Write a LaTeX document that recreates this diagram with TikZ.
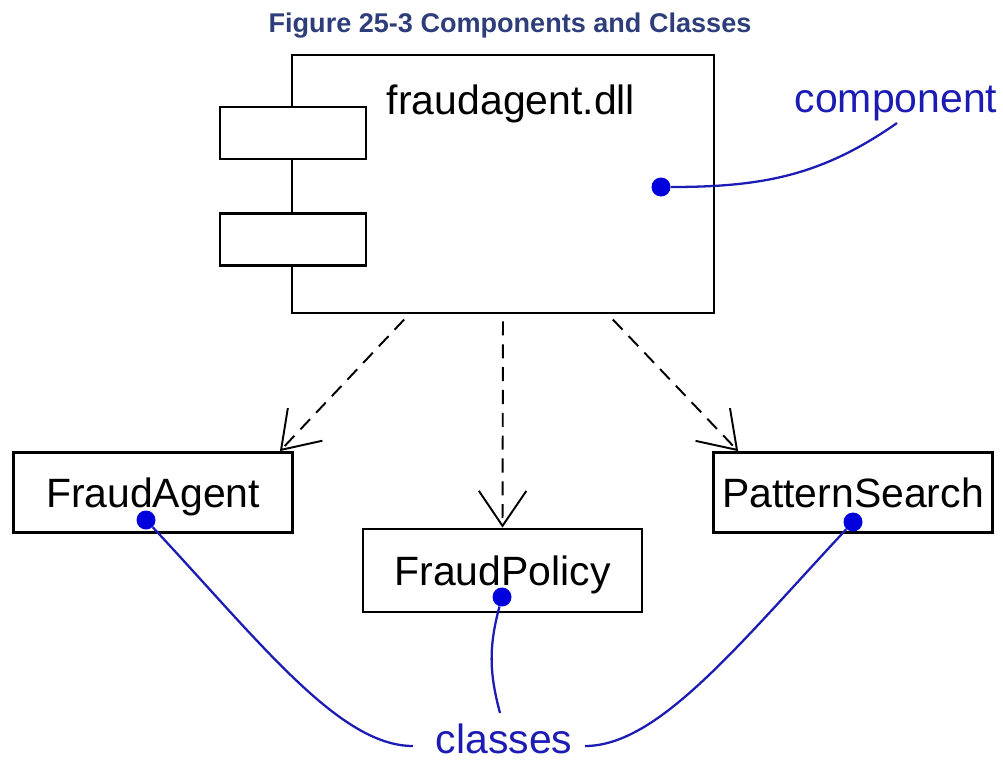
\documentclass[tikz,border=0pt]{standalone}
\usepackage{fontspec}
\setmainfont{Liberation Sans}
\usetikzlibrary{arrows.meta}
\definecolor{titelblau}{RGB}{46,62,122}
\definecolor{notiz}{RGB}{28,28,180}
\definecolor{punkt}{RGB}{0,0,220}
\def\klassey{-9.85}
\def\klassew{5.58}

\begin{document}
\begin{tikzpicture}[
		font=\fontsize{23.3}{28}\selectfont,
		comp/.style={draw,line width=1.6pt,minimum width=8.44cm,minimum height=5.16cm,inner sep=0pt},
		port/.style={draw,line width=1.6pt,fill=white,minimum width=2.92cm,minimum height=1.04cm,
			inner sep=0pt},
		cls/.style={draw,line width=1.6pt,minimum width=\klassew cm,minimum height=1.6cm,
			inner sep=0pt,text height=0.58cm,text depth=0pt},
		dep/.style={-{Straight Barb[length=7mm,width=9.5mm,line width=1.1pt]},line width=1.1pt,
			dash pattern=on 8pt off 5pt,shorten <=1.4mm},
		note/.style={notiz,line width=1.3pt},
		dot/.style={circle,fill=punkt,inner sep=0pt,minimum size=3.8mm},
		ntxt/.style={text=notiz,anchor=base},
		ttl/.style={font=\fontsize{15.4}{18}\selectfont\bfseries,text=titelblau,anchor=base}]
		
		\useasboundingbox (0,0) rectangle (20.06,-15.18);
		
		% ============ Titel ============
		\node[ttl] (titel) at (10.2,-0.64) {Figure 25-3 Components and Classes};
		
		% ============ Komponente ============
		\node[comp] (dll) at (10.06,-3.68) {};
		\node[port] (port1) at (5.86,-2.66) {};
		\node[port] (port2) at (5.86,-4.79) {};
		\node[anchor=base] (dllname) at (10.22,-2.28) {fraudagent.dll};
		
		% ============ Klassen ============
		\node[cls] (fa) at (3.06,\klassey) {FraudAgent};
		\node[cls,minimum height=1.66cm] (fp) at (10.05,-11.41) {FraudPolicy};
		\node[cls] (ps) at (17.06,\klassey) {PatternSearch};
		
		% Abhaengigkeiten (gestrichelt, offene Spitze)
		\draw[dep] ([xshift=-1.88cm]dll.south) -- ([xshift=-0.28cm]fa.north east);
		\draw[dep] (dll.south) -- (fp.north);
		\draw[dep] ([xshift=2.10cm]dll.south) -- ([xshift=0.52cm]ps.north west);
		
		% ============ Anmerkungen ============
		\node[dot] (dlldot) at (13.22,-3.74) {};
		\node[ntxt] (komptxt) at (17.92,-2.24) {component};
		\coordinate (kompend) at (17.94,-2.46);
		\draw[note] (dlldot) to[out=0,in=215] (kompend);
		
		\node[dot] (fadot) at (2.92,-10.40) {};
		\node[dot] (fpdot) at (10.04,-11.94) {};
		\node[dot] (psdot) at (17.06,-10.44) {};
		\node[ntxt] (klassen) at (10.08,-15.06) {classes};
		\coordinate (klL) at (8.26,-14.92);
		\coordinate (klM) at (10.0,-14.26);
		\coordinate (klR) at (11.70,-14.92);
		\draw[note] (fadot) to[out=-47,in=180,out looseness=1.2,in looseness=0.55] (klL);
		\draw[note] (fpdot) to[out=-105,in=105] (klM);
		\draw[note] (psdot) to[out=-133,in=0,out looseness=1.2,in looseness=0.55] (klR);
		
	\end{tikzpicture}
\end{document}
